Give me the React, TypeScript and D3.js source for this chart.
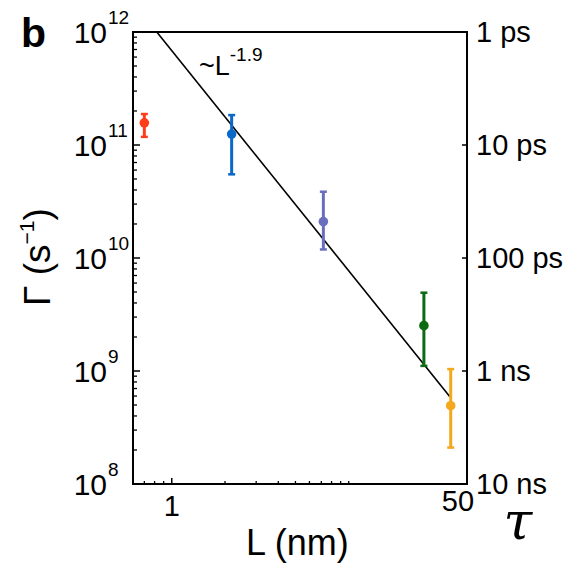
import React from "react";
import * as d3 from "d3";

// ---- data ----
const pointL = [0.7, 2.18, 7.19, 26.6, 37.7];
const pointRate = [1.57e11, 1.25e11, 2.1e10, 2.52e9, 4.93e8];
const rateHigh = [1.88e11, 1.84e11, 3.86e10, 4.93e9, 1.04e9];
const rateLow = [1.18e11, 5.5e10, 1.19e10, 1.11e9, 2.1e8];
const pointColors = ["#ff3d1a", "#0a68c8", "#6a6fbd", "#0d6a12", "#f4a81e"];

const fitL = [0.823, 37.3];
const fitRate = [1e12, 5.93e8];

const leftTickExps = [8, 9, 10, 11, 12];
const rightTickTau = [1e-12, 1e-11, 1e-10, 1e-9, 1e-8];
const rightTickLabels = ["1 ps", "10 ps", "100 ps", "1 ns", "10 ns"];
const bottomMinorTicks = [0.7, 0.8, 0.9, 2, 3, 4, 5, 6, 7, 8, 9, 10];
const bottomLabels = ["1", "50"];

const W = 577;
const H = 566;
const left = 133;
const right = 467;
const top = 32;
const bottom = 484;
const FONT = "Liberation Sans, Arial, sans-serif";

export default function App() {
  const x = d3.scaleLog().domain([0.604, 46.6]).range([left, right]);
  const y = d3.scaleLog().domain([1e8, 1e12]).range([bottom, top]);
  const yTau = d3.scaleLog().domain([1e-12, 1e-8]).range([top, bottom]);

  const minorY: number[] = [];
  for (let e = 8; e < 12; e++) {
    for (let m = 2; m <= 9; m++) minorY.push(m * Math.pow(10, e));
  }

  const line = d3
    .line<number>()
    .x((_, i) => x(fitL[i]))
    .y((d) => y(d));

  return (
    <svg
      width={W}
      height={H}
      style={{ position: "absolute", left: 0, top: 0, background: "#fff" }}
      fontFamily={FONT}
    >
      {/* panel label */}
      <text x={21} y={47} fontSize={41} fontWeight="bold" fill="#000">
        b
      </text>

      {/* fit line */}
      <path d={line(fitRate) || ""} stroke="#000" strokeWidth={1.6} fill="none" />
      <text x={199} y={75} fontSize={27} fill="#000">
        ~L
        <tspan fontSize={19} dy={-14}>
          -1.9
        </tspan>
      </text>

      {/* left minor ticks */}
      {minorY.map((v, i) => (
        <line key={"mi" + i} x1={left} x2={left + 4} y1={y(v)} y2={y(v)} stroke="#000" strokeWidth={1.3} />
      ))}
      {leftTickExps.map((e) => (
        <g key={"lt" + e}>
          <line x1={left} x2={left + 7} y1={y(Math.pow(10, e))} y2={y(Math.pow(10, e))} stroke="#000" strokeWidth={1.5} />
          <text x={107} y={y(Math.pow(10, e)) + 11} fontSize={30} textAnchor="end" fill="#000">
            10
          </text>
          <text x={108} y={y(Math.pow(10, e)) - 8} fontSize={19} fill="#000">
            {String(e)}
          </text>
        </g>
      ))}

      {/* right ticks */}
      {rightTickTau.map((t, i) => (
        <g key={"rt" + i}>
          <line x1={right - 5} x2={right} y1={yTau(t)} y2={yTau(t)} stroke="#000" strokeWidth={1.5} />
          <text x={476} y={yTau(t) + 10} fontSize={29} fill="#000">
            {rightTickLabels[i]}
          </text>
        </g>
      ))}

      {/* bottom ticks */}
      {bottomMinorTicks.map((v, i) => (
        <line key={"bt" + i} x1={x(v)} x2={x(v)} y1={bottom} y2={bottom - 3} stroke="#000" strokeWidth={1.3} />
      ))}
      <line x1={x(1)} x2={x(1)} y1={bottom} y2={bottom - 6} stroke="#000" strokeWidth={1.5} />
      <text x={x(1)} y={516} fontSize={29} textAnchor="middle" fill="#000">
        {bottomLabels[0]}
      </text>
      <text x={458} y={511} fontSize={29} textAnchor="middle" fill="#000">
        {bottomLabels[1]}
      </text>

      {/* frame */}
      <rect x={left} y={top} width={right - left} height={bottom - top} fill="none" stroke="#000" strokeWidth={2} />

      {/* data points */}
      {pointL.map((L, i) => {
        const cx = x(L);
        return (
          <g key={"p" + i} stroke={pointColors[i]} fill={pointColors[i]}>
            <line x1={cx} x2={cx} y1={y(rateHigh[i])} y2={y(rateLow[i])} strokeWidth={3} />
            <line x1={cx - 3.5} x2={cx + 3.5} y1={y(rateHigh[i])} y2={y(rateHigh[i])} strokeWidth={2.5} />
            <line x1={cx - 3.5} x2={cx + 3.5} y1={y(rateLow[i])} y2={y(rateLow[i])} strokeWidth={2.5} />
            <circle cx={cx} cy={y(pointRate[i])} r={4.8} stroke="none" />
          </g>
        );
      })}

      {/* axis titles */}
      <text x={246} y={555} fontSize={36} fill="#000">
        L (nm)
      </text>
      <g transform="translate(50,257) rotate(-90)">
        <text x={0} y={0} fontSize={37} textAnchor="middle" fill="#000">
          Γ (s
          <tspan fontSize={21} dy={-16}>
            −1
          </tspan>
          <tspan dy={16}>)</tspan>
        </text>
      </g>
      <text x={518} y={539} fontSize={52} fontStyle="italic" textAnchor="middle" fill="#000" fontFamily="DejaVu Serif, Liberation Serif, serif">
        τ
      </text>
    </svg>
  );
}
